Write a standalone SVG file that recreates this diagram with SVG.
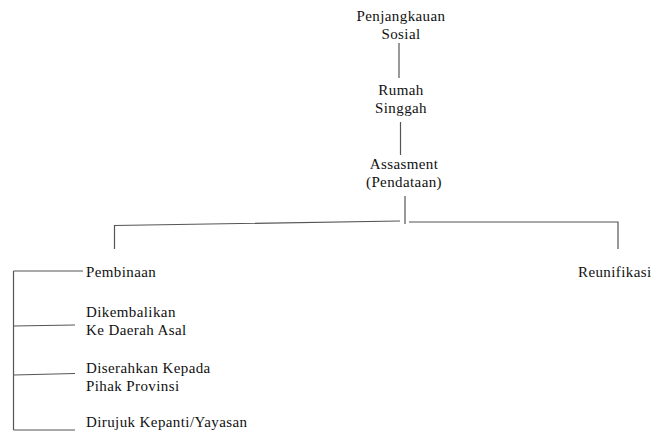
<svg xmlns="http://www.w3.org/2000/svg" width="651" height="432" viewBox="0 0 651 432">
<style>
.t{font-family:'Liberation Serif','DejaVu Serif',serif;font-size:15px;fill:#111;letter-spacing:0.4px}
.c{text-anchor:middle}
.ln{stroke:#555;stroke-width:1.2;fill:none}
</style>
<rect width="651" height="432" fill="#fff"/>
<g id="connectors" class="ln">
<line x1="399" y1="43" x2="399" y2="78"/>
<line x1="400.5" y1="122" x2="400.5" y2="155"/>
<line x1="405" y1="196" x2="405" y2="224"/>
<polyline points="114.5,249 114.5,225.5 400,221"/>
<polyline points="409,222 618,222 618,249"/>
<line x1="13.5" y1="271" x2="13.5" y2="430"/>
<line x1="13.5" y1="271" x2="83" y2="271"/>
<line x1="13.5" y1="326" x2="75" y2="325"/>
<line x1="13.5" y1="375" x2="75" y2="373.5"/>
<line x1="13.5" y1="430" x2="75" y2="430"/>
</g>
<g class="t">
<g id="penjangkauan"><text class="c" x="401" y="21">Penjangkauan</text><text class="c" x="401" y="39">Sosial</text></g>
<g id="rumah"><text class="c" x="401" y="95">Rumah</text><text class="c" x="401" y="113">Singgah</text></g>
<g id="assasment"><text class="c" x="404" y="169">Assasment</text><text class="c" x="404" y="187">(Pendataan)</text></g>
<g id="pembinaan"><text x="86" y="277">Pembinaan</text></g>
<g id="reunifikasi"><text x="578" y="277">Reunifikasi</text></g>
<g id="dikembalikan"><text x="86" y="317">Dikembalikan</text><text x="86" y="335">Ke Daerah Asal</text></g>
<g id="diserahkan"><text x="86" y="373">Diserahkan Kepada</text><text x="86" y="391">Pihak Provinsi</text></g>
<g id="dirujuk"><text x="86" y="427">Dirujuk Kepanti/Yayasan</text></g>
</g>
</svg>
